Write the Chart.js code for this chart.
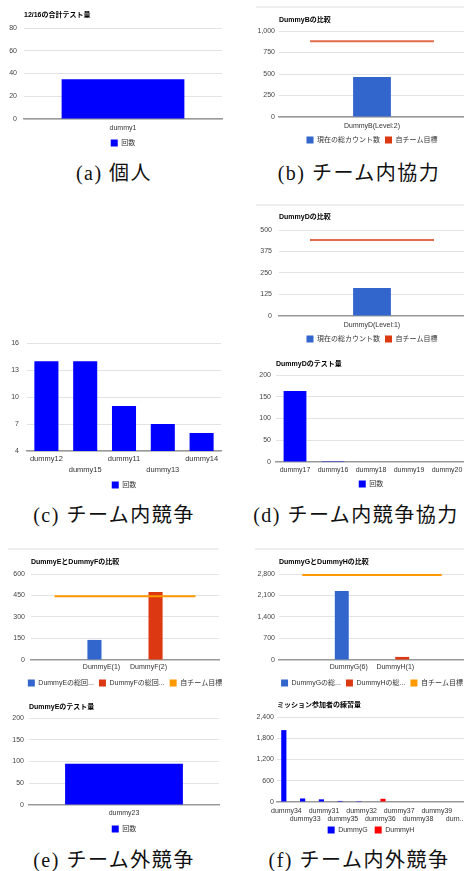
<!DOCTYPE html>
<html>
<head>
<meta charset="utf-8">
<script src="https://cdn.jsdelivr.net/npm/chart.js@4.4.1/dist/chart.umd.min.js"></script>
<style>
html, body { margin: 0; padding: 0; background: #fff; width: 464px; height: 871px; overflow: hidden; position: relative; }
canvas { position: absolute; }
.cap { position: absolute; width: 232px; text-align: center; font-family: 'Liberation Serif', 'Noto Sans CJK JP', serif; font-size: 20px; letter-spacing: 1.5px; line-height: 20px; color: #111; }
.edge { position: absolute; height: 2px; background: #efefef; }
</style>
</head>
<body>
<div class="edge" style="left:256px;top:6px;width:208px"></div>
<div class="edge" style="left:256px;top:204px;width:208px"></div>
<div class="edge" style="left:8px;top:548px;width:211px"></div>
<div class="edge" style="left:255px;top:548px;width:209px"></div>

<div class="cap" style="left:-2px;top:163px">(a) 個人</div>
<div class="cap" style="left:243px;top:163px">(b) チーム内協力</div>
<div class="cap" style="left:-2px;top:505px">(c) チーム内競争</div>
<div class="cap" style="left:240px;top:505px">(d) チーム内競争協力</div>
<div class="cap" style="left:-2px;top:850px">(e) チーム外競争</div>
<div class="cap" style="left:243px;top:850px">(f) チーム内外競争</div>

<script>
// (a) 個人
var aLabels = ['dummy1'];
var aCount = [35];

// (b) チーム内協力
var bLabels = ['', 'DummyB(Level:2)', ''];
var bTotal = [null, 465, null];
var bGoal = [880, 880, 880];

// (c) チーム内競争
var cLabels = ['dummy12', 'dummy15', 'dummy11', 'dummy13', 'dummy14'];
var cCount = [14, 14, 9, 7, 6];

// (d) チーム内競争協力
var d1Labels = ['', 'DummyD(Level:1)', ''];
var d1Total = [null, 163, null];
var d1Goal = [442, 442, 442];
var d2Labels = ['dummy17', 'dummy16', 'dummy18', 'dummy19', 'dummy20'];
var d2Count = [163, 2, 0, 0, 0];

// (e) チーム外競争
var e1Labels = ['', 'DummyE(1)', 'DummyF(2)', ''];
var e1TotalE = [null, 140, null, null];
var e1TotalF = [null, null, 474, null];
var e1Goal = [445, 445, 445, 445];
var e2Labels = ['dummy23'];
var e2Count = [95];

// (f) チーム内外競争
var f1Labels = ['', 'DummyG(6)', 'DummyH(1)', ''];
var f1TotalG = [null, 2250, null, null];
var f1TotalH = [null, null, 100, null];
var f1Goal = [2770, 2770, 2770, 2770];
var f2Labels = ['dummy34', 'dummy33', 'dummy31', 'dummy35', 'dummy32', 'dummy36', 'dummy37', 'dummy38', 'dummy39', 'dum...'];
var f2G = [2030, 100, 75, 30, 5, 0, 0, 0, 0, 0];
var f2H = [0, 0, 0, 0, 0, 90, 0, 0, 0, 0];

var BLUE = '#0000ff', RED = '#ff0000';
var GBLUE = '#3366cc', GRED = '#dc3912', GORANGE = '#ff9900';

Chart.defaults.font.family = "'Liberation Sans', 'Noto Sans CJK JP', sans-serif";
Chart.defaults.font.size = 7;
Chart.defaults.color = '#333';
Chart.defaults.animation = false;

function squareLabels(chart) {
  return Chart.defaults.plugins.legend.labels.generateLabels(chart).map(function (it) {
    var ds = chart.data.datasets[it.datasetIndex];
    it.fillStyle = ds.backgroundColor;
    it.strokeStyle = 'rgba(0,0,0,0)';
    it.lineWidth = 0;
    return it;
  });
}

function stagger(v, i) {
  var l = this.getLabelForValue(v);
  return i % 2 ? ['', l] : l;
}

// g: canvas left, plot left/right/top/bottom, title centre, x label centre, legend centre (page px)
function makeChart(g, datasets, labels, y) {
  var cv = document.createElement('canvas');
  document.body.appendChild(cv);
  var LP = g.lp || 5; // gap between legend items
  var top = Math.round(g.ty != null ? g.ty - 4.2 : g.pt - 6);
  var fs = g.fs || 7, lh = g.lh || 1.2;
  var L = fs * lh;
  var rows = g.stagger ? 2 : 1;
  var xPad = g.ly - L / 2 - g.pb;
  var xH = xPad + rows * L + 1;
  var bottom = g.pb + xH + LP + 17;
  var h = Math.ceil(bottom - top);
  // canvas symmetric around plot centre so the legend centres under the plot
  var centre = (g.px + g.pr) / 2;
  var w = Math.round(2 * (centre - g.x0));
  cv.width = w;
  cv.height = h;
  cv.style.left = g.x0 + 'px';
  cv.style.top = top + 'px';

  // move the legend row up to its place without squeezing the tick labels
  var legendShift = {
    id: 'legendShift',
    afterLayout: function (chart) {
      var l = chart.legend;
      var d = (g.gy - top) - (l.top + LP + 3.5);
      l.top += d;
      l.bottom += d;
    }
  };

  new Chart(cv, {
    type: 'bar',
    data: { labels: labels, datasets: datasets },
    plugins: [legendShift],
    options: {
      responsive: false,
      animation: false,
      locale: 'en-US',
      layout: { padding: { top: g.ty != null ? 0 : g.pt - top, bottom: h - (bottom - top), left: 0, right: 0 } },
      plugins: {
        title: {
          display: g.ty != null, text: g.title, align: 'start', fullSize: false,
          color: '#000', font: { size: 7, weight: 'bold' },
          padding: { top: 0, bottom: g.pt - top - 8.4 }
        },
        legend: {
          position: 'bottom',
          labels: {
            boxWidth: 7, boxHeight: 7, padding: LP, color: '#333', font: { size: 7 },
            generateLabels: squareLabels,
            sort: function (a, b) { return a.datasetIndex - b.datasetIndex; }
          }
        },
        tooltip: { enabled: false }
      },
      scales: {
        x: {
          grid: { display: false, drawTicks: false },
          border: { color: '#999', width: 1.5 },
          ticks: {
            padding: xPad, maxRotation: 0, minRotation: 0, autoSkip: false, color: '#333',
            font: { size: fs, lineHeight: lh },
            callback: g.stagger ? stagger : function (v) { return this.getLabelForValue(v); }
          },
          afterFit: function (s) { s.height = xH; }
        },
        y: {
          min: y.min, max: y.max,
          ticks: { stepSize: y.step, padding: g.yp, color: '#444' },
          grid: { color: '#e3e3e3', drawTicks: false },
          border: { display: false },
          afterFit: function (s) { s.width = g.px - g.x0; }
        },
        // empty right-hand spacer so the plot stops at g.pr
        yr: {
          position: 'right',
          ticks: { display: false },
          grid: { display: false, drawTicks: false },
          border: { display: false },
          afterFit: function (s) { s.width = g.x0 + w - g.pr; }
        }
      }
    }
  });
}

function simpleBar(label, data, color, pct) {
  return { label: label, data: data, backgroundColor: color, barPercentage: pct, categoryPercentage: 1 };
}
function groupBar(label, data, color, pct) {
  return { label: label, data: data, backgroundColor: color, barPercentage: 1, categoryPercentage: pct };
}
function goalLine(data, stroke, fill) {
  return { type: 'line', label: '自チーム目標', data: data, borderColor: stroke, backgroundColor: fill,
           borderWidth: 2, pointRadius: 0, order: -1 };
}

// (a)
makeChart({ x0: 0, px: 24, pr: 222, ty: 15, pt: 28, pb: 119, ly: 128, gy: 143, yp: 7, title: '12/16の合計テスト量' },
  [simpleBar('回数', aCount, BLUE, 0.62)], aLabels, { min: 0, max: 80, step: 20 });

// (b)
makeChart({ x0: 232, px: 279, pr: 465, ty: 20, pt: 31, pb: 117, ly: 126, gy: 140, yp: 4, title: 'DummyBの比較' },
  [simpleBar('現在の総カウント数', bTotal, GBLUE, 0.61), goalLine(bGoal, 'rgba(220,57,18,0.75)', GRED)],
  bLabels, { min: 0, max: 1000, step: 250 });

// (c)
makeChart({ x0: 0, px: 27, pr: 221, ty: null, pt: 337, pb: 451, ly: 459, fs: 7.5, lh: 1.45, gy: 485, yp: 8, stagger: true },
  [simpleBar('回数', cCount, BLUE, 0.62)], cLabels, { min: 4, max: 16, step: 3 });

// (d) top
makeChart({ x0: 232, px: 279, pr: 465, ty: 217, pt: 230, pb: 316, ly: 325, gy: 339, yp: 7, title: 'DummyDの比較' },
  [simpleBar('現在の総カウント数', d1Total, GBLUE, 0.61), goalLine(d1Goal, 'rgba(220,57,18,0.75)', GRED)],
  d1Labels, { min: 0, max: 500, step: 125 });

// (d) bottom
makeChart({ x0: 232, px: 276, pr: 466, ty: 364, pt: 375, pb: 462, ly: 470, gy: 484, yp: 5, title: 'DummyDのテスト量' },
  [simpleBar('回数', d2Count, BLUE, 0.6)], d2Labels, { min: 0, max: 200, step: 50 });

// (e) top
makeChart({ x0: 0, px: 31, pr: 219, ty: 562, pt: 574, pb: 660, ly: 667, gy: 683, yp: 6, title: 'DummyEとDummyFの比較' },
  [groupBar('DummyEの総回...', e1TotalE, GBLUE, 0.6), groupBar('DummyFの総回...', e1TotalF, GRED, 0.6),
   goalLine(e1Goal, GORANGE, GORANGE)],
  e1Labels, { min: 0, max: 600, step: 150 });

// (f) top
makeChart({ x0: 232, px: 279, pr: 465, ty: 562, pt: 574, pb: 660, ly: 667, gy: 683, yp: 4, title: 'DummyGとDummyHの比較' },
  [groupBar('DummyGの総...', f1TotalG, GBLUE, 0.6), groupBar('DummyHの総...', f1TotalH, GRED, 0.6),
   goalLine(f1Goal, GORANGE, GORANGE)],
  f1Labels, { min: 0, max: 2800, step: 700 });

// (e) bottom
makeChart({ x0: 0, px: 29, pr: 219, ty: 707, pt: 718, pb: 805, ly: 813, gy: 829, yp: 5, title: 'DummyEのテスト量' },
  [simpleBar('回数', e2Count, BLUE, 0.62)], e2Labels, { min: 0, max: 200, step: 50 });

// (f) bottom
makeChart({ x0: 232, px: 277, pr: 465, ty: 705, pt: 717, pb: 802, ly: 811, gy: 830, yp: 3, lp: 7, stagger: true, title: 'ミッション参加者の練習量' },
  [groupBar('DummyG', f2G, BLUE, 0.55), groupBar('DummyH', f2H, RED, 0.55)],
  f2Labels, { min: 0, max: 2400, step: 600 });
</script>
</body>
</html>
